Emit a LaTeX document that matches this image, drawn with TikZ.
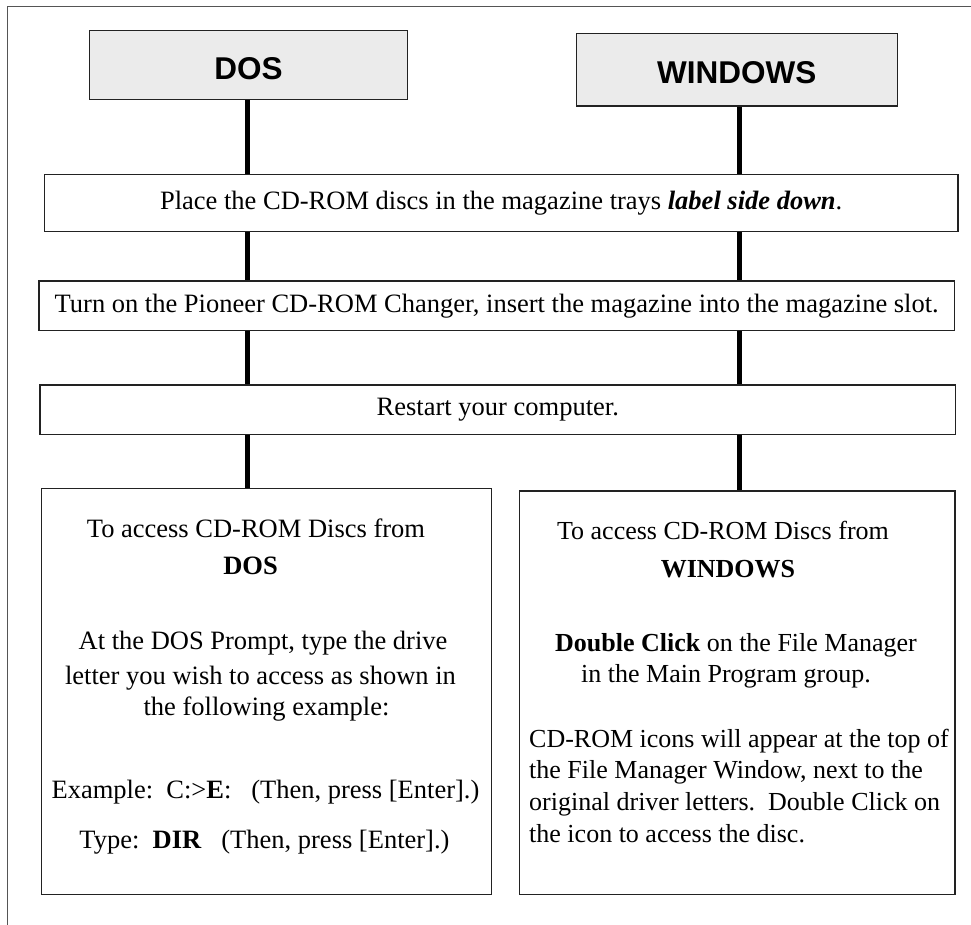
\documentclass[tikz,border=0pt]{standalone}
\usepackage{fontspec}
\setmainfont{Liberation Serif}
\newfontfamily\headfont{Liberation Sans}
\definecolor{headfill}{HTML}{EBEBEB}
\definecolor{framegray}{HTML}{555555}
\definecolor{boxline}{HTML}{222222}
\tikzset{
  frameline/.style={draw=framegray, line width=1.5bp},
  headbox/.style={draw=boxline, line width=1.3bp, fill=headfill, inner sep=0pt,
    text depth=0pt, font=\headfont\bfseries\fontsize{31.5bp}{36bp}\selectfont},
  stepbox/.style={draw=boxline, line width=1.3bp, fill=white, inner sep=0pt,
    font=\fontsize{26.5bp}{32bp}\selectfont},
  detailbox/.style={draw=boxline, line width=1.3bp, fill=white, inner sep=0pt},
  txt/.style={inner sep=0pt, anchor=base, font=\fontsize{26.5bp}{32bp}\selectfont},
  txtw/.style={inner sep=0pt, anchor=base, font=\fontsize{26bp}{32bp}\selectfont},
  txtwl/.style={inner sep=0pt, anchor=base west, font=\fontsize{26bp}{32bp}\selectfont},
  link/.style={draw=black, line width=5bp}
}
\begin{document}
\begin{tikzpicture}[x=1bp,y=-1bp]
\useasboundingbox (0,0) rectangle (971,925);
% outer frame
\coordinate (fb) at (7.3,925);
\coordinate (ftl) at (7.3,6.7);
\coordinate (fr) at (971,6.7);
\draw[frameline] (fb) -- (ftl) -- (fr);

% heading boxes
\node[headbox, text height=28.6bp, minimum width=317.6bp, minimum height=68.6bp] (dos) at (248.5,65) {DOS};
\node[headbox, text height=26.6bp, minimum width=321bp, minimum height=72.7bp] (win) at (736.8,69.7) {WINDOWS};

% step boxes
\node[stepbox, minimum width=913.7bp, minimum height=57.4bp] (place) at (501.2,203)
  {Place the CD-ROM discs in the magazine trays \textbf{\textit{label side down}}.};
\node[stepbox, minimum width=915.3bp, minimum height=49.7bp] (turn) at (496.7,305.8)
  {Turn on the Pioneer CD-ROM Changer, insert the magazine into the magazine slot.};
\node[stepbox, minimum width=915.7bp, minimum height=49.7bp] (restart) at (497.8,409.8)
  {Restart your computer.};

% detail boxes
\node[detailbox, minimum width=450bp, minimum height=405.6bp] (dosd) at (266.5,691.5) {};
\node[detailbox, minimum width=435.3bp, minimum height=403.3bp] (wind) at (737.3,692.7) {};

% lane coordinates
\coordinate (dl) at (247.3,0);
\coordinate (wl) at (739,0);

% connectors DOS lane
\draw[link] (dos.south -| dl) -- (place.north -| dl);
\draw[link] (place.south -| dl) -- (turn.north -| dl);
\draw[link] (turn.south -| dl) -- (restart.north -| dl);
\draw[link] (restart.south -| dl) -- (dosd.north -| dl);
% connectors WINDOWS lane
\draw[link] (win.south -| wl) -- (place.north -| wl);
\draw[link] (place.south -| wl) -- (turn.north -| wl);
\draw[link] (turn.south -| wl) -- (restart.north -| wl);
\draw[link] (restart.south -| wl) -- (wind.north -| wl);

% DOS detail text
\node[txt] (d1) at (256,537) {To access CD-ROM Discs from};
\node[txt] (d2) at (250.5,574) {\textbf{DOS}};
\node[txt] (d3) at (263,649) {At the DOS Prompt, type the drive};
\node[txt] (d4) at (260.5,684) {letter you wish to access as shown in};
\node[txt] (d5) at (266.5,715) {the following example:};
\node[txt] (d6) at (265.5,798) {Example:\ \ C:>\textbf{E}:\ \ \ (Then, press [Enter].)};
\node[txt] (d7) at (264.5,848.5) {Type:\ \ \textbf{DIR}\ \ \ (Then, press [Enter].)};

% WINDOWS detail text
\node[txtw] (w1) at (723,539) {To access CD-ROM Discs from};
\node[txtw] (w2) at (728,577) {\textbf{WINDOWS}};
\node[txtw] (w3) at (736,651) {\textbf{Double Click} on the File Manager};
\node[txtw] (w4) at (726,682) {in the Main Program group.};
\node[txtwl] (w5) at (529,747) {CD-ROM icons will appear at the top of};
\node[txtwl] (w6) at (529,778) {the File Manager Window, next to the};
\node[txtwl] (w7) at (529,810) {original driver letters.\ \ Double Click on};
\node[txtwl] (w8) at (529,842) {the icon to access the disc.};
\end{tikzpicture}
\end{document}
